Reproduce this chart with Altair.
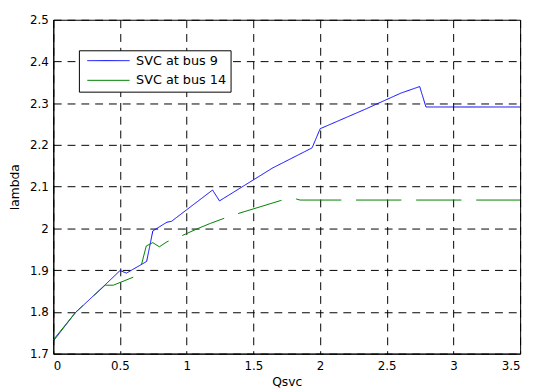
import altair as alt
import pandas as pd

# SVC at bus 9
bus9_q = [0, 0.162, 0.389, 0.500, 0.549, 0.700, 0.746, 0.852, 0.886, 1.194, 1.246,
          1.645, 1.940, 2.001, 2.334, 2.604, 2.747, 2.794, 3.5]
bus9_lambda = [1.730, 1.797, 1.865, 1.899, 1.893, 1.921, 1.994, 2.015, 2.017, 2.092, 2.066,
               2.145, 2.193, 2.239, 2.285, 2.324, 2.340, 2.291, 2.291]

# SVC at bus 14
bus14_q = [0, 0.17, 0.389, 0.45, 0.598, 0.66, 0.697, 0.746, 0.795, 0.852, 0.96, 1.078,
           1.177, 1.270, 1.379, 1.706, 1.817, 1.85, 3.5]
bus14_lambda = [1.733, 1.80, 1.864, 1.864, 1.883, 1.912, 1.958, 1.966, 1.956, 1.968, 1.982, 1.999,
                2.012, 2.023, 2.035, 2.067, 2.071, 2.068, 2.068]

series_names = ["SVC at bus 9", "SVC at bus 14"]
series_colors = ["#0000ff", "#008000"]
x_ticks = [0, 0.5, 1, 1.5, 2, 2.5, 3, 3.5]
y_ticks = [1.7, 1.8, 1.9, 2.0, 2.1, 2.2, 2.3, 2.4, 2.5]

rows = []
for i, (q, l) in enumerate(zip(bus9_q, bus9_lambda)):
    rows.append({"Qsvc": q, "lambda": l, "series": series_names[0], "o": i})
for i, (q, l) in enumerate(zip(bus14_q, bus14_lambda)):
    rows.append({"Qsvc": q, "lambda": l, "series": series_names[1], "o": i})
df = pd.DataFrame(rows)

FONT = "DejaVu Sans"

chart = alt.Chart(df).mark_line(strokeWidth=1, clip=True).encode(
    x=alt.X("Qsvc:Q",
            scale=alt.Scale(domain=[0, 3.5], nice=False, zero=False),
            axis=alt.Axis(values=x_ticks, format="~g", title="Qsvc",
                          labelPadding=7, titlePadding=4)),
    y=alt.Y("lambda:Q",
            scale=alt.Scale(domain=[1.7, 2.5], nice=False, zero=False),
            axis=alt.Axis(values=y_ticks, format="~g", title="lambda",
                          labelPadding=5, titlePadding=8)),
    color=alt.Color("series:N",
                    scale=alt.Scale(domain=series_names, range=series_colors),
                    legend=alt.Legend(title=None, orient="none", legendX=26, legendY=31,
                                      direction="vertical",
                                      symbolType="M-3.58,0H3.58", symbolSize=144,
                                      symbolStrokeWidth=1, symbolOffset=19.5,
                                      labelOffset=21.5, labelFont=FONT, labelFontSize=13,
                                      labelColor="black", labelLimit=300,
                                      padding=4, rowPadding=6,
                                      strokeColor="black", fillColor="white")),
    strokeDash=alt.StrokeDash("series:N",
                              scale=alt.Scale(domain=series_names, range=[[1, 0], [46, 15]]),
                              legend=None),
    order="o:Q",
).properties(
    width=474, height=339,
    background="white",
    autosize=alt.AutoSizeParams(type="none"),
    padding={"left": 46, "top": 9, "right": 8, "bottom": 36},
).configure_view(
    stroke="black", strokeWidth=1
).configure_axis(
    labelFont=FONT, labelFontSize=12, labelColor="black",
    titleFont=FONT, titleFontSize=12.5, titleColor="black", titleFontWeight="normal",
    domainColor="black", domainWidth=1,
    tickSize=0, ticks=False,
    grid=True, gridColor="black", gridDash=[8, 6], gridWidth=1, gridOpacity=1,
)

chart.save("out.html", embed_options={"renderer": "svg", "actions": False})
